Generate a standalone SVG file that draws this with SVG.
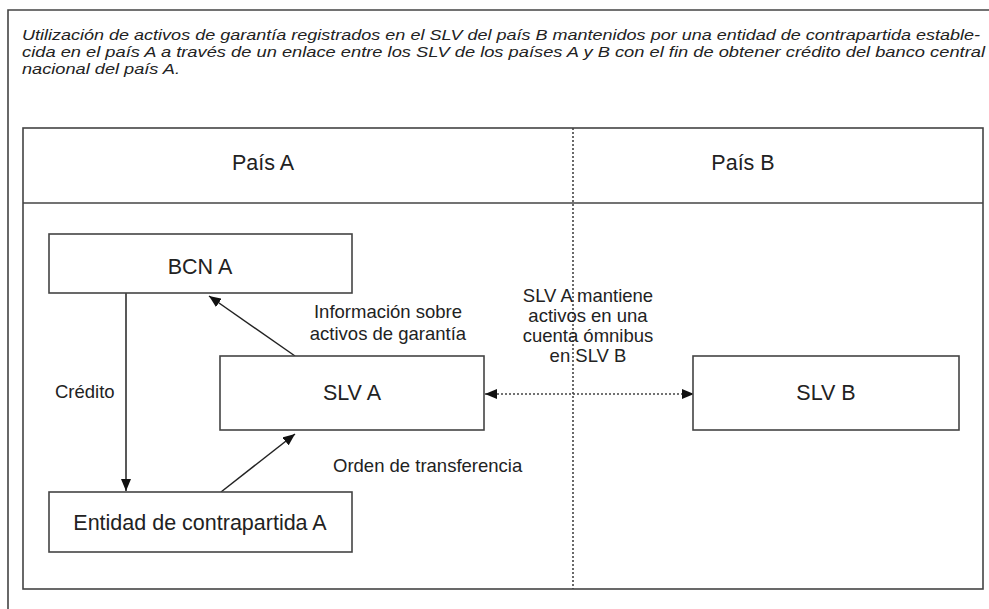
<svg xmlns="http://www.w3.org/2000/svg" width="989" height="609" viewBox="0 0 989 609">
<defs>
<style>
.frame{fill:none;stroke:#444;stroke-width:1.6}
.box{fill:#fff;stroke:#444;stroke-width:1.6}
.lbl{font-family:"Liberation Sans",Arial,sans-serif;fill:#222}
.big{font-size:21.5px;text-anchor:middle}
.sm{font-size:18.5px}
.title{font-family:"Liberation Sans",Arial,sans-serif;font-style:italic;font-size:15px;fill:#222}
.conn{fill:none;stroke:#222;stroke-width:1.5}
.dot{fill:none;stroke:#444;stroke-width:1.6;stroke-dasharray:2 2}
</style>
<marker id="ah" viewBox="0 0 12 10" refX="12" refY="5" markerWidth="12" markerHeight="10" markerUnits="userSpaceOnUse" orient="auto-start-reverse">
<path d="M0,0 L12,5 L0,10 Z" fill="#111"/>
</marker>
</defs>
<rect width="989" height="609" fill="#fff"/>
<g id="outer-frame">
<path class="frame" d="M8,615 L8,10 L995,10"/>
</g>
<g id="title">
<text class="title" x="22" y="40" textLength="958" lengthAdjust="spacingAndGlyphs">Utilización de activos de garantía registrados en el SLV del país B mantenidos por una entidad de contrapartida estable-</text>
<text class="title" x="22" y="57" textLength="963" lengthAdjust="spacingAndGlyphs">cida en el país A a través de un enlace entre los SLV de los países A y B con el fin de obtener crédito del banco central</text>
<text class="title" x="22" y="74" textLength="158" lengthAdjust="spacingAndGlyphs">nacional del país A.</text>
</g>
<g id="countries">
<rect class="frame" x="23" y="128" width="960" height="461"/>
<line class="frame" x1="23" y1="203" x2="983" y2="203"/>
<line class="dot" x1="573" y1="128" x2="573" y2="589"/>
<text class="lbl big" x="263" y="170">País A</text>
<text class="lbl big" x="743" y="170">País B</text>
</g>
<g id="connectors">
<line class="conn" x1="126" y1="293" x2="126" y2="491" marker-end="url(#ah)"/>
<line class="conn" x1="295" y1="356" x2="209" y2="296" marker-end="url(#ah)"/>
<line class="conn" x1="221" y1="492" x2="295" y2="434" marker-end="url(#ah)"/>
<line class="dot" x1="485" y1="394" x2="694" y2="394" stroke="#333" marker-start="url(#ah)" marker-end="url(#ah)"/>
<text class="lbl sm" x="55" y="398">Crédito</text>
<text class="lbl sm" x="388" y="318" text-anchor="middle">Información sobre</text>
<text class="lbl sm" x="388" y="340" text-anchor="middle">activos de garantía</text>
<text class="lbl sm" x="333" y="472">Orden de transferencia</text>
<text class="lbl sm" x="588" y="302" text-anchor="middle">SLV A mantiene</text>
<text class="lbl sm" x="588" y="322" text-anchor="middle">activos en una</text>
<text class="lbl sm" x="588" y="342" text-anchor="middle">cuenta ómnibus</text>
<text class="lbl sm" x="588" y="362" text-anchor="middle">en SLV B</text>
</g>
<g id="bcn-a">
<rect class="box" x="49" y="234" width="303" height="59"/>
<text class="lbl big" x="200" y="274">BCN A</text>
</g>
<g id="slv-a">
<rect class="box" x="220" y="356" width="264" height="74"/>
<text class="lbl big" x="352" y="400">SLV A</text>
</g>
<g id="entidad-a">
<rect class="box" x="49" y="492" width="303" height="60"/>
<text class="lbl big" x="200" y="530">Entidad de contrapartida A</text>
</g>
<g id="slv-b">
<rect class="box" x="693" y="356" width="266" height="74"/>
<text class="lbl big" x="826" y="400">SLV B</text>
</g>
</svg>
